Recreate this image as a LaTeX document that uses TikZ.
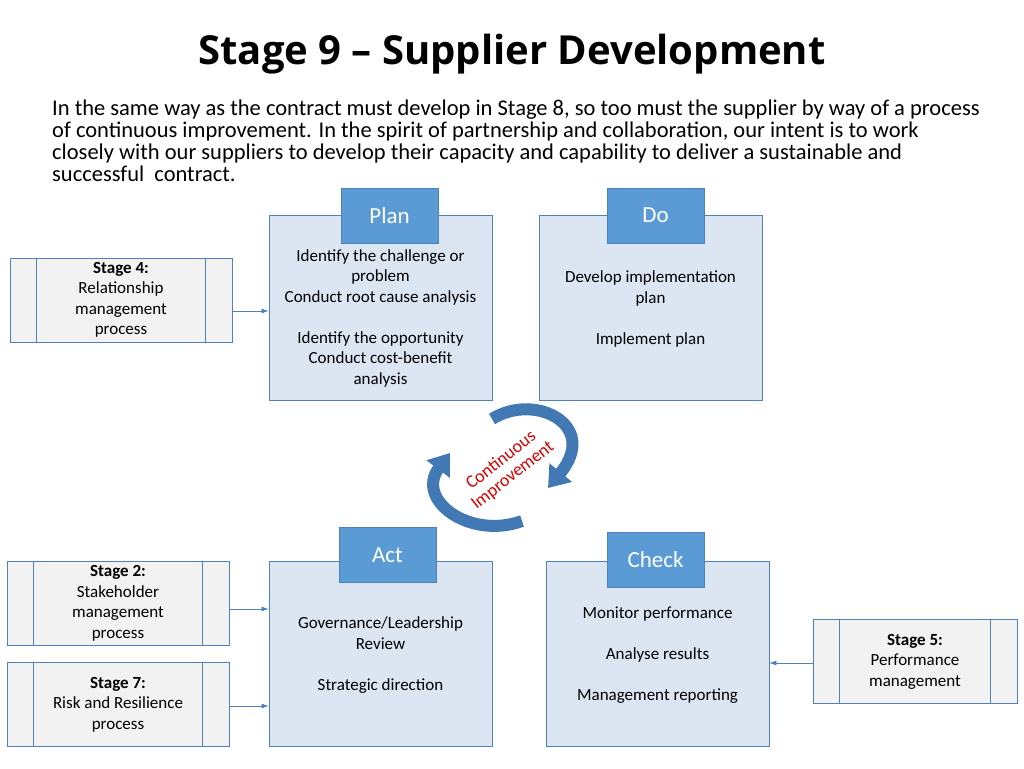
\documentclass[tikz,border=0pt]{standalone}
\usepackage{fontspec}
\setmainfont{Carlito}
\newfontfamily\titlefont{Open Sans}
\usetikzlibrary{arrows.meta,calc,positioning}
\definecolor{hdblue}{RGB}{91,155,213}
\definecolor{boxblue}{RGB}{220,230,242}
\definecolor{edgeblue}{RGB}{79,129,189}
\definecolor{stagegray}{RGB}{242,242,242}
\definecolor{ciblue}{RGB}{66,120,180}
\tikzset{
  phase/.style={draw=edgeblue, fill=boxblue, line width=0.8pt, minimum width=223pt, minimum height=185pt, inner sep=0pt},
  header/.style={draw=edgeblue, fill=hdblue, text=white, line width=0.8pt, minimum width=97pt, minimum height=55pt, font=\fontsize{23}{26}\selectfont},
  body/.style={align=center, font=\fontsize{17}{20.5}\selectfont},
  stage/.style={draw=edgeblue, fill=stagegray, line width=0.8pt, minimum height=84pt, inner sep=0pt, align=center, font=\fontsize{17}{20.5}\selectfont},
  feed/.style={-{Latex[length=7pt,width=5pt]}, draw=edgeblue, line width=0.6pt},
  cycle/.style={-{Triangle[length=20pt,width=28pt]}, draw=ciblue, line width=12pt}
}
\begin{document}
\begin{tikzpicture}[x=1pt,y=-1pt]
  \useasboundingbox (0,0) rectangle (1024,768);
  % title and intro
  \node[font=\titlefont\bfseries\fontsize{40}{44}\selectfont] (title) at (512,54) {Stage 9 – Supplier Development};
  \node[anchor=north west, align=left, inner sep=0pt, font=\fontsize{22.5}{22}\selectfont] (intro) at (52,100)
    {In the same way as the contract must develop in Stage 8, so too must the supplier by way of a process\\
     of continuous improvement. In the spirit of partnership and collaboration, our intent is to work\\
     closely with our suppliers to develop their capacity and capability to deliver a sustainable and\\
     successful\ \ contract.};
  % PDCA boxes
  \node[phase] (plan) at (380.5,307.5) {};
  \node[phase] (do) at (650.5,307.5) {};
  \node[phase] (act) at (380.5,654) {};
  \node[phase] (check) at (657.5,654) {};
  \node[header] (planH) at (389.5,215.5) {Plan};
  \node[header] (doH) at (655.5,215.5) {Do};
  \node[header] (actH) at (387.5,555) {Act};
  \node[header] (checkH) at (655.5,559.5) {Check};
  \node[body] (planT) at (380.5,318) {Identify the challenge or\\problem\\Conduct root cause analysis\\[20.5pt]Identify the opportunity\\Conduct cost-benefit\\analysis};
  \node[body] (doT) at (650.5,309) {Develop implementation\\plan\\[20.5pt]Implement plan};
  \node[body] (actT) at (380.5,655) {Governance/Leadership\\Review\\[20.5pt]Strategic direction};
  \node[body] (checkT) at (657.5,655) {Monitor performance\\[20.5pt]Analyse results\\[20.5pt]Management reporting};
  % stage inputs
  \node[stage, minimum width=222pt] (s4) at (121,300) {\textbf{Stage 4:}\\Relationship\\management\\process};
  \node[stage, minimum width=222pt] (s2) at (118,603.5) {\textbf{Stage 2:}\\Stakeholder\\management\\process};
  \node[stage, minimum width=222pt] (s7) at (118,704.5) {\textbf{Stage 7:}\\Risk and Resilience\\process};
  \node[stage, minimum width=204pt] (s5) at (915,661.5) {\textbf{Stage 5:}\\Performance\\management};
  \foreach \s/\d in {s4/27, s2/27, s7/27, s5/27}{
    \draw[edgeblue, line width=0.8pt] ($(\s.north west)+(\d,0)$) -- ($(\s.south west)+(\d,0)$);
    \draw[edgeblue, line width=0.8pt] ($(\s.north east)+(-\d,0)$) -- ($(\s.south east)+(-\d,0)$);
  }
  \draw[feed] (s4.east |- 0,311) -- (plan.west |- 0,311);
  \draw[feed] (s2.east |- 0,609) -- (act.west |- 0,609);
  \draw[feed] (s7.east |- 0,706) -- (act.west |- 0,706);
  \draw[feed] (s5.west |- 0,663) -- (check.east |- 0,663);
  % continuous improvement cycle
  \coordinate (ciA) at (492,419);
  \coordinate (ciB) at (548,488);
  \coordinate (ciC) at (522,521);
  \coordinate (ciD) at (450,453);
  \draw[cycle] (ciA) .. controls (535,392) and (600,425) .. (ciB);
  \draw[cycle] (ciC) .. controls (470,540) and (415,500) .. (ciD);
  \node[text=red!85!black, rotate=38, align=center, font=\fontsize{18}{19}\selectfont] (ciT) at (507,468) {Continuous\\Improvement};
\end{tikzpicture}
\end{document}
